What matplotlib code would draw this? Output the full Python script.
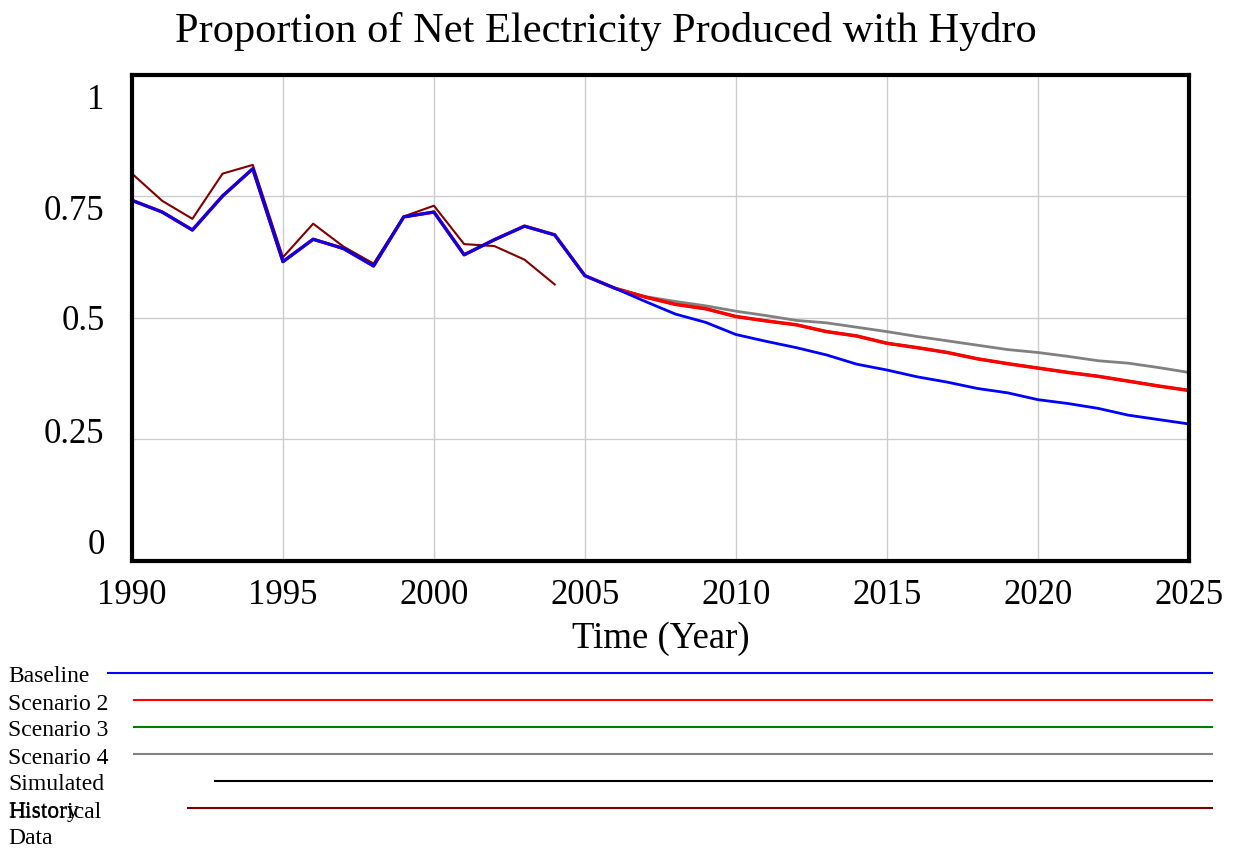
import matplotlib.pyplot as plt
from matplotlib.lines import Line2D
import numpy as np

# Données
years_hist = np.arange(1990, 2005)
years_sim = np.arange(1990, 2026)

baseline = [0.742, 0.718, 0.681, 0.751, 0.807, 0.616, 0.662, 0.643, 0.607, 0.708,
            0.718, 0.630, 0.661, 0.689, 0.671, 0.587, 0.561, 0.534, 0.508, 0.491,
            0.466, 0.452, 0.439, 0.424, 0.405, 0.393, 0.379, 0.368, 0.355, 0.346,
            0.332, 0.324, 0.314, 0.300, 0.291, 0.282]
scenario2 = baseline[:17] + [0.543, 0.528, 0.519, 0.503, 0.494, 0.486, 0.472, 0.463,
                             0.448, 0.439, 0.429, 0.416, 0.406, 0.397, 0.388, 0.380,
                             0.370, 0.360, 0.351]
scenario3 = list(scenario2)
scenario4 = baseline[:17] + [0.544, 0.534, 0.525, 0.514, 0.505, 0.495, 0.490, 0.481,
                             0.472, 0.462, 0.453, 0.444, 0.435, 0.429, 0.421, 0.412,
                             0.407, 0.398, 0.388]
simulated = baseline[:16]
historical = [0.797, 0.741, 0.704, 0.797, 0.815, 0.625, 0.694, 0.647, 0.612, 0.709,
              0.731, 0.652, 0.648, 0.620, 0.569]

y_ticks = [0, 0.25, 0.5, 0.75, 1]
y_labels = ['0', '0.25', '0.5', '0.75', '1']
x_ticks = [1990, 1995, 2000, 2005, 2010, 2015, 2020, 2025]

plt.rcParams['font.family'] = ['Liberation Serif', 'DejaVu Serif']

fig = plt.figure(figsize=(12.36, 8.5), dpi=100)
ax = fig.add_axes([0.1068, 0.34, 0.855, 0.5718])

# Courbes (ordre de dessin : les dernières par-dessus)
ax.plot(years_sim, scenario4, color='#808080', lw=2)
ax.plot(years_sim, scenario3, color='#008000', lw=2)
ax.plot(years_sim, scenario2, color='#ff0000', lw=2.5)
ax.plot(years_hist, historical, color='#800000', lw=1.5)
ax.plot(years_sim[:16], simulated, color='black', lw=1.5)
ax.plot(years_sim, baseline, color='#0000ff', lw=2)

ax.set_xlim(1990, 2025)
ax.set_ylim(0, 1)

# Grille
for x in x_ticks[1:-1]:
    ax.axvline(x, color='#cccccc', lw=1, zorder=0)
for y in y_ticks[1:-1]:
    ax.axhline(y, color='#cccccc', lw=1, zorder=0)

for s in ax.spines.values():
    s.set_linewidth(3)
    s.set_color('black')

ax.set_xticks(x_ticks)
ax.set_xticklabels([str(x) for x in x_ticks], fontsize=25)
ax.tick_params(axis='x', length=0, pad=13)
ax.set_yticks([])

# Étiquettes de l'axe y (réparties comme dans l'original)
label_pos = [0.031, 0.26, 0.492, 0.719, 0.948]
for p, lab in zip(label_pos, y_labels):
    ax.text(-0.026, p, lab, transform=ax.transAxes, ha='right', va='center', fontsize=25)

ax.set_xlabel('Time (Year)', fontsize=26.5, labelpad=7)
fig.text(0.49, 0.963, 'Proportion of Net Electricity Produced with Hydro',
         ha='center', va='center', fontsize=30.5)

# Légende façon Vensim
leg_rows = [
    ('Baseline', '#0000ff', 108),
    ('Scenario 2', '#ff0000', 134),
    ('Scenario 3', '#008000', 134),
    ('Scenario 4', '#808080', 134),
    ('Simulated', 'black', 215),
    ('Historical', '#800000', 188),
]
W, H = 1236, 850
row_y = [673, 700, 727, 754, 781, 808]
for (name, col, x0), y in zip(leg_rows, row_y):
    fig.text(8 / W, 1 - (y + 4) / H, name, ha='left', va='center', fontsize=17)
    fig.add_artist(Line2D([x0 / W, 1212 / W], [1 - y / H, 1 - y / H],
                          transform=fig.transFigure, color=col, lw=1.5))
fig.text(8 / W, 1 - (808 + 4) / H, 'History', ha='left', va='center', fontsize=17)
fig.text(8 / W, 1 - (835 + 4) / H, 'Data', ha='left', va='center', fontsize=17)

fig.savefig('out.png', dpi=100)
